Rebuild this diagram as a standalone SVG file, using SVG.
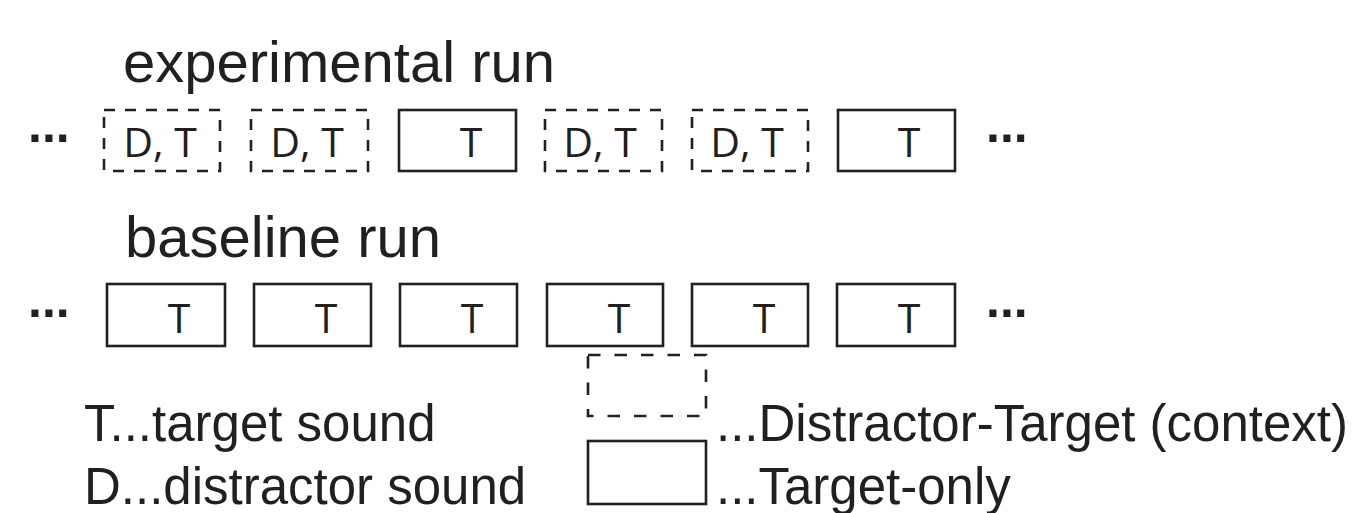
<svg xmlns="http://www.w3.org/2000/svg" width="1363" height="513" viewBox="0 0 1363 513">
  <style>
    .title { font-family: "Liberation Sans", Arial, sans-serif; font-size: 58px; fill: #231f20; }
    .legend { font-family: "Liberation Sans", Arial, sans-serif; font-size: 51px; fill: #231f20; }
    .lbl { font-family: "Open Sans", "Noto Sans", sans-serif; font-size: 41px; fill: #231f20; text-anchor: middle; }
    .dots { font-family: "Liberation Sans", Arial, sans-serif; font-weight: bold; font-size: 50px; fill: #231f20; }
    .solid { fill: none; stroke: #231f20; stroke-width: 2.6; }
    .dashed { fill: none; stroke: #231f20; stroke-width: 2.6; stroke-dasharray: 11 10; }
    .dashed-lg { fill: none; stroke: #231f20; stroke-width: 2.6; stroke-dasharray: 12.5 14; }
  </style>
  <rect width="1363" height="513" fill="#ffffff"/>

  <!-- row headings -->
  <text class="title" x="123" y="82">experimental run</text>
  <text class="title" x="125" y="257">baseline run</text>

  <!-- experimental run: sequence of blocks -->
  <g id="exp-row">
    <text class="dots" x="28" y="142">...</text>
    <g id="exp-1"><rect class="dashed" x="104" y="110" width="116" height="61"/><text class="lbl" x="160" y="157">D, T</text></g>
    <g id="exp-2"><rect class="dashed" x="251" y="110" width="117" height="61"/><text class="lbl" x="307" y="157">D, T</text></g>
    <g id="exp-3"><rect class="solid" x="399" y="110" width="117" height="61"/><text class="lbl" x="471" y="157">T</text></g>
    <g id="exp-4"><rect class="dashed" x="545" y="110" width="117" height="61"/><text class="lbl" x="600" y="157">D, T</text></g>
    <g id="exp-5"><rect class="dashed" x="692" y="110" width="116" height="61"/><text class="lbl" x="747" y="157">D, T</text></g>
    <g id="exp-6"><rect class="solid" x="838" y="110" width="117" height="61"/><text class="lbl" x="909" y="157">T</text></g>
    <text class="dots" x="986" y="142">...</text>
  </g>

  <!-- baseline run: target-only blocks -->
  <g id="base-row">
    <text class="dots" x="28" y="317">...</text>
    <g id="base-1"><rect class="solid" x="107" y="284" width="118" height="62"/><text class="lbl" x="179" y="333">T</text></g>
    <g id="base-2"><rect class="solid" x="254" y="284" width="117" height="62"/><text class="lbl" x="326" y="333">T</text></g>
    <g id="base-3"><rect class="solid" x="400" y="284" width="117" height="62"/><text class="lbl" x="472" y="333">T</text></g>
    <g id="base-4"><rect class="solid" x="547" y="284" width="116" height="62"/><text class="lbl" x="619" y="333">T</text></g>
    <g id="base-5"><rect class="solid" x="692" y="284" width="116" height="62"/><text class="lbl" x="764" y="333">T</text></g>
    <g id="base-6"><rect class="solid" x="837" y="284" width="118" height="62"/><text class="lbl" x="909" y="333">T</text></g>
    <text class="dots" x="986" y="317">...</text>
  </g>

  <!-- key -->
  <g id="legend">
    <text class="legend" x="84" y="441">T...target sound</text>
    <text class="legend" x="84" y="504">D...distractor sound</text>
    <g id="key-context">
      <rect class="dashed-lg" x="588" y="355" width="118" height="61"/>
      <text class="legend" x="716" y="441">...Distractor-Target (context)</text>
    </g>
    <g id="key-target">
      <rect class="solid" x="588" y="441" width="118" height="63"/>
      <text class="legend" x="716" y="504">...Target-only</text>
    </g>
  </g>
</svg>
